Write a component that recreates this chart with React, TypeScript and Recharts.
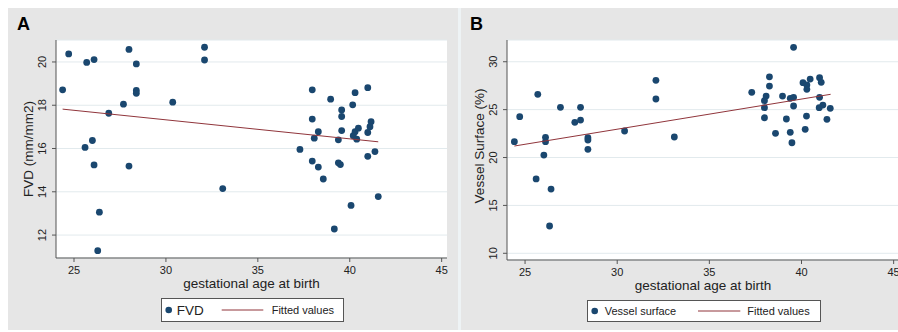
import { ScatterChart, Scatter, XAxis, YAxis, CartesianGrid } from 'recharts'

// panel A: FVD vs gestational age
const gestAgeA = [
  24.38, 24.71, 25.69, 26.09, 25.6, 26.0, 26.09, 27.99, 28.39, 28.39,
  28.39, 27.69, 26.89, 27.99, 30.37, 32.1, 32.1, 33.09, 26.38, 26.29,
  37.96, 38.96, 40.29, 40.98, 40.16, 39.56, 39.56, 37.96, 38.29, 38.07,
  39.56, 39.38, 40.29, 40.47, 40.19, 40.38, 41.16, 41.1, 40.98, 37.29,
  40.98, 41.37, 37.96, 38.29, 39.38, 39.49, 38.56, 41.55, 40.07, 39.16,
]
const fvd = [
  18.71, 20.37, 19.98, 20.11, 16.05, 16.37, 15.24, 20.58, 19.91, 18.68,
  18.55, 18.05, 17.63, 15.19, 18.14, 20.68, 20.09, 14.15, 13.06, 11.28,
  18.71, 18.28, 18.58, 18.81, 18.02, 17.78, 17.48, 17.36, 16.78, 16.48,
  16.83, 16.4, 16.78, 16.94, 16.59, 16.43, 17.24, 17.01, 16.74, 15.96,
  15.64, 15.86, 15.42, 15.14, 15.34, 15.26, 14.59, 13.78, 13.37, 12.28,
]
const fvdFitX = [24.38, 41.55]
const fvdFitY = [17.82, 16.31]

// panel B: vessel surface vs gestational age
const gestAgeB = [
  24.42, 24.71, 25.69, 26.11, 26.11, 26.02, 26.92, 27.7, 28.01, 28.01,
  28.41, 28.41, 28.41, 30.4, 32.1, 32.1, 33.1, 25.6, 26.41, 26.33,
  39.57, 37.3, 38.26, 38.26, 38.08, 37.99, 37.99, 37.99, 38.97, 39.39,
  39.57, 39.57, 40.08, 40.29, 40.29, 40.47, 40.98, 41.07, 40.98, 41.16,
  40.96, 41.56, 39.18, 40.27, 41.38, 38.59, 39.39, 40.2, 39.48,
]
const vesselSurface = [
  21.65, 24.26, 26.6, 22.11, 21.65, 20.26, 25.24, 23.67, 23.91, 25.24,
  22.07, 21.83, 20.86, 22.77, 28.06, 26.11, 22.14, 17.76, 16.71, 12.85,
  31.5, 26.81, 28.43, 27.46, 26.42, 25.93, 25.2, 24.15, 26.42, 26.18,
  26.28, 25.38, 27.81, 27.57, 27.12, 28.19, 28.33, 27.85, 26.28, 25.48,
  25.2, 25.14, 24.02, 24.33, 23.99, 22.53, 22.63, 22.94, 21.54,
]
const vsFitX = [24.42, 41.58]
const vsFitY = [21.2, 26.6]

const xTicks = [25, 30, 35, 40, 45]
const fvdTicks = [12, 14, 16, 18, 20]
const vsTicks = [10, 15, 20, 25, 30]

const NAVY = '#1a476f'
const MAROON = '#90353b'
const PANEL_BG = '#e6e6e6'
const FONT = '"Liberation Sans", Arial, sans-serif'

const toPoints = (xs: number[], ys: number[]) => xs.map((x, i) => ({ x, y: ys[i] }))

const Dot = (p: any) => <circle cx={p.cx} cy={p.cy} r={3.4} fill={NAVY} />
const NoShape = () => <g />

const RotTick = ({ x, y, payload }: any) => (
  <text
    x={x}
    y={y}
    transform={`rotate(-90 ${x} ${y})`}
    textAnchor="middle"
    fontSize={11}
    fill="#222"
    fontFamily={FONT}
  >
    {payload.value}
  </text>
)

interface PanelProps {
  letter: string
  left: number
  width: number
  yWidth: number
  marginRight: number
  marginBottom: number
  yDomain: [number, number]
  yTicks: number[]
  yTitle: string
  yTitleX: number
  yTitleShift: number
  points: { x: number; y: number }[]
  fit: { x: number; y: number }[]
}

function Panel(p: PanelProps) {
  return (
    <div style={{ position: 'absolute', left: p.left, top: 8, width: p.width, height: 322 }}>
      <div
        style={{
          position: 'absolute', left: 9, top: 5, fontSize: 18, fontWeight: 'bold',
          fontFamily: FONT, color: '#000', lineHeight: '22px',
        }}
      >
        {p.letter}
      </div>
      <ScatterChart
        width={p.width}
        height={322}
        margin={{ top: 32, right: p.marginRight, left: 0, bottom: p.marginBottom }}
      >
        <CartesianGrid vertical={false} stroke="#e2eaed" fill="#ffffff" fillOpacity={1} />
        <XAxis
          type="number"
          dataKey="x"
          domain={[24.02, 45.29]}
          ticks={xTicks}
          allowDataOverflow
          height={40}
          tickSize={4}
          tickMargin={4}
          stroke="#555"
          tick={{ fontSize: 11, fill: '#222', fontFamily: FONT }}
          label={(lp: any) => (
            <text
              x={lp.viewBox.x + lp.viewBox.width / 2}
              y={lp.viewBox.y + 30}
              textAnchor="middle"
              fontSize={13.5}
              fill="#222"
              fontFamily={FONT}
            >
              gestational age at birth
            </text>
          )}
        />
        <YAxis
          type="number"
          dataKey="y"
          domain={p.yDomain}
          ticks={p.yTicks}
          allowDataOverflow
          width={p.yWidth}
          tickSize={4}
          tickMargin={6}
          stroke="#555"
          tick={<RotTick />}
          label={(lp: any) => {
            const cx = lp.viewBox.x + p.yTitleX
            const cy = lp.viewBox.y + lp.viewBox.height / 2 + p.yTitleShift
            return (
              <text
                x={cx}
                y={cy}
                transform={`rotate(-90 ${cx} ${cy})`}
                textAnchor="middle"
                fontSize={13.5}
                fill="#222"
                fontFamily={FONT}
              >
                {p.yTitle}
              </text>
            )
          }}
        />
        <Scatter data={p.points} shape={Dot} isAnimationActive={false} />
        <Scatter
          data={p.fit}
          shape={NoShape}
          line={{ stroke: MAROON, strokeWidth: 1 }}
          lineType="joint"
          isAnimationActive={false}
        />
      </ScatterChart>
    </div>
  )
}

export default function App() {
  const textStyle = { fontFamily: FONT, fill: '#222' }
  return (
    <div
      style={{
        position: 'absolute', left: 0, top: 0, width: 898, height: 332,
        overflow: 'hidden', background: '#fff', fontFamily: FONT,
      }}
    >
      <div style={{ position: 'absolute', left: 8, top: 8, width: 450, height: 322, background: PANEL_BG }} />
      <div style={{ position: 'absolute', left: 458, top: 8, width: 3, height: 322, background: '#eef3f5' }} />
      <div style={{ position: 'absolute', left: 461, top: 8, width: 437, height: 322, background: PANEL_BG }} />

      <Panel
        letter="A"
        left={8}
        width={450}
        yWidth={48}
        marginRight={11}
        marginBottom={32}
        yDomain={[10.94, 21.015]}
        yTicks={fvdTicks}
        yTitle="FVD (mm/mm2)"
        yTitleX={24.5}
        yTitleShift={0}
        points={toPoints(gestAgeA, fvd)}
        fit={toPoints(fvdFitX, fvdFitY)}
      />
      <Panel
        letter="B"
        left={461}
        width={438}
        yWidth={46}
        marginRight={0}
        marginBottom={30}
        yDomain={[9.3, 32.27]}
        yTicks={vsTicks}
        yTitle="Vessel Surface (%)"
        yTitleX={22.5}
        yTitleShift={-4}
        points={toPoints(gestAgeB, vesselSurface)}
        fit={toPoints(vsFitX, vsFitY)}
      />

      <svg style={{ position: 'absolute', left: 161, top: 298 }} width={183} height={24}>
        <rect x={0.5} y={0.5} width={182} height={23} fill="#fff" stroke="#555" />
        <circle cx={7.7} cy={12} r={3.3} fill={NAVY} />
        <text x={15.7} y={16.8} fontSize={13.5} style={textStyle}>FVD</text>
        <line x1={60.7} x2={102.3} y1={12} y2={12} stroke={MAROON} strokeWidth={1} />
        <text x={110.7} y={15.9} fontSize={11} style={textStyle}>Fitted values</text>
      </svg>

      <svg style={{ position: 'absolute', left: 587, top: 300 }} width={234} height={22}>
        <rect x={0.5} y={0.5} width={233} height={21} fill="#fff" stroke="#555" />
        <circle cx={7.7} cy={11} r={3.3} fill={NAVY} />
        <text x={17.7} y={15} fontSize={11} style={textStyle}>Vessel surface</text>
        <line x1={111} x2={153.3} y1={11} y2={11} stroke={MAROON} strokeWidth={1} />
        <text x={160.3} y={15} fontSize={11} style={textStyle}>Fitted values</text>
      </svg>
    </div>
  )
}
